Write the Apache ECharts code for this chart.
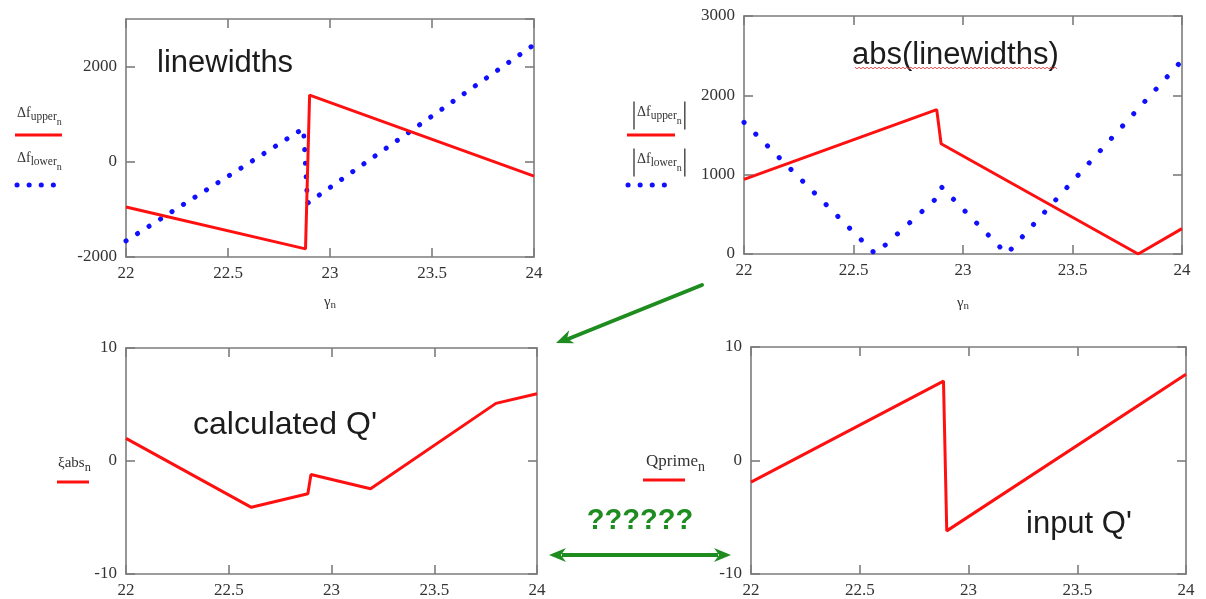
<!DOCTYPE html>
<html>
<head>
<meta charset="utf-8">
<script src="https://cdn.jsdelivr.net/npm/echarts@6/dist/echarts.min.js"></script>
<style>
  html, body { margin: 0; padding: 0; background: #fff; }
  #chart { width: 1206px; height: 599px; }
</style>
</head>
<body>
<div id="chart"></div>
<script>
// Linewidth offsets (upper / lower) against gamma_n
const upperX = [22, 22.88, 22.9, 24];
const upperY = [-950, -1830, 1400, -300];
const lowerX = [22, 22.87, 22.89, 24];
const lowerY = [-1660, 700, -870, 2460];

// Absolute linewidths
const absUpperX = [22, 22.88, 22.9, 23.8, 24];
const absUpperY = [940, 1820, 1390, 0, 320];
const absLowerX = [22, 22.6, 22.87, 22.9, 23.2, 24];
const absLowerY = [1660, 0, 680, 850, 0, 2440];

// Calculated Q' (xi abs)
const xiAbsX = [22, 22.61, 22.885, 22.9, 23.19, 23.8, 24];
const xiAbsY = [2.0, -4.1, -2.9, -1.2, -2.45, 5.1, 5.95];

// Input Q'
const qPrimeX = [22, 22.885, 22.9, 24];
const qPrimeY = [-1.9, 7.0, -6.2, 7.6];

// Axis ranges
const xRange = { min: 22, max: 24, interval: 0.5 };
const yRanges = [
  { min: -2000, max: 3000, interval: 2000 },
  { min: 0, max: 3000, interval: 1000 },
  { min: -10, max: 10, interval: 10 },
  { min: -10, max: 10, interval: 10 }
];

const RED = '#ff1010';
const BLUE = '#1010ff';
const GREEN = '#1f8c1f';
const AXIS = '#7c7c7c';
const LABEL = '#333';
const SERIF = '"Liberation Serif", "DejaVu Serif", serif';
const SANS = '"Liberation Sans", Arial, sans-serif';

const pairs = (xs, ys) => xs.map((x, i) => [x, ys[i]]);

const grids = [
  { left: 126, top: 19, width: 408, height: 238 },
  { left: 744, top: 16, width: 438, height: 238 },
  { left: 126, top: 348, width: 411, height: 228 },
  { left: 751, top: 347, width: 435, height: 228 }
];

const lineAx = { show: true, onZero: false, lineStyle: { color: AXIS, width: 1.6 } };
const tickAx = { show: true, inside: true, length: 9, lineStyle: { color: AXIS, width: 1.6 } };
const plainNumber = v => String(v);

const xAxes = [];
const yAxes = [];
grids.forEach((g, i) => {
  const nameGap = i === 0 ? 37 : 41;
  xAxes.push({
    type: 'value', gridIndex: i, position: 'bottom', ...xRange,
    axisLine: lineAx, axisTick: tickAx, splitLine: { show: false },
    axisLabel: { fontFamily: SERIF, fontSize: 17, color: LABEL, margin: 8, formatter: plainNumber },
    name: i < 2 ? '{g|γ}{s|n}' : '',
    nameLocation: 'middle', nameGap: nameGap,
    nameTextStyle: {
      rich: {
        g: { fontFamily: SERIF, fontSize: 15, color: LABEL },
        s: { fontFamily: SERIF, fontSize: 11, color: LABEL, padding: [6, 0, 0, 0] }
      }
    }
  });
  xAxes.push({
    type: 'value', gridIndex: i, position: 'top', ...xRange,
    axisLine: lineAx, axisTick: tickAx, axisLabel: { show: false }, splitLine: { show: false }
  });
  yAxes.push({
    type: 'value', gridIndex: i, position: 'left', ...yRanges[i],
    axisLine: lineAx, axisTick: tickAx, splitLine: { show: false },
    axisLabel: {
      fontFamily: SERIF, fontSize: 17, color: LABEL, margin: 9,
      showMaxLabel: i !== 0, formatter: plainNumber
    }
  });
  yAxes.push({
    type: 'value', gridIndex: i, position: 'right', ...yRanges[i],
    axisLine: lineAx, axisTick: tickAx, axisLabel: { show: false }, splitLine: { show: false }
  });
});

const solid = (name, xs, ys, g) => ({
  name, type: 'line', xAxisIndex: 2 * g, yAxisIndex: 2 * g,
  data: pairs(xs, ys), showSymbol: false, symbol: 'none',
  lineStyle: { color: RED, width: 3 }, z: 3
});
const dotted = (name, xs, ys, g, gap) => ({
  name, type: 'line', xAxisIndex: 2 * g, yAxisIndex: 2 * g,
  data: pairs(xs, ys), showSymbol: false, symbol: 'none',
  lineStyle: { color: BLUE, width: 5, type: [0.1, gap], cap: 'round' }, z: 2
});

const series = [
  dotted('Δf lower', lowerX, lowerY, 0, 13.5),
  solid('Δf upper', upperX, upperY, 0),
  dotted('|Δf lower|', absLowerX, absLowerY, 1, 16.5),
  solid('|Δf upper|', absUpperX, absUpperY, 1),
  solid('ξabs', xiAbsX, xiAbsY, 2),
  solid('Qprime', qPrimeX, qPrimeY, 3)
];

// --- decorations: legend symbols, titles, arrows ---
const mctx = document.createElement('canvas').getContext('2d');
function textWidth(t, size, family) { mctx.font = size + 'px ' + family; return mctx.measureText(t).width; }

function txt(t, x, y, size, family, fill, extra) {
  return Object.assign({
    type: 'text', x, y, silent: true,
    style: {
      text: t, fontSize: size, fontFamily: family, fill,
      align: 'left', verticalAlign: 'middle',
      textAlign: 'left', textVerticalAlign: 'middle'
    }
  }, extra || {});
}

// Symbol name with a subscript and a second-level subscript, optionally wrapped in |...|
function symbolName(x, y, base, sub, subsub, size, bars) {
  const els = [];
  const s1 = size * 0.82, s2 = size * 0.72;
  let cx = x + (bars ? 4 : 0);
  els.push(txt(base, cx, y, size, SERIF, LABEL));
  cx += textWidth(base, size, SERIF);
  if (sub) {
    els.push(txt(sub, cx, y + size * 0.3, s1, SERIF, LABEL));
    cx += textWidth(sub, s1, SERIF);
  }
  if (subsub) {
    els.push(txt(subsub, cx, y + size * (sub ? 0.65 : 0.32), sub ? s2 : s1, SERIF, LABEL));
    cx += textWidth(subsub, sub ? s2 : s1, SERIF);
  }
  if (bars) {
    const y1 = y - size * 0.75, y2 = y + size * 1.25;
    els.push({ type: 'line', silent: true, shape: { x1: x + 1, y1, x2: x + 1, y2 }, style: { stroke: LABEL, lineWidth: 1.3 } });
    els.push({ type: 'line', silent: true, shape: { x1: cx + 3, y1, x2: cx + 3, y2 }, style: { stroke: LABEL, lineWidth: 1.3 } });
  }
  return els;
}

function redKey(x1, x2, y) {
  return { type: 'line', silent: true, shape: { x1, y1: y, x2, y2: y }, style: { stroke: RED, lineWidth: 3 } };
}
function blueKey(x1, x2, y) {
  return { type: 'line', silent: true, shape: { x1, y1: y, x2, y2: y },
    style: { stroke: BLUE, lineWidth: 5, lineDash: [0.1, 12], lineCap: 'round' } };
}

function arrowHead(tx, ty, fx, fy, len, half) {
  const dx = tx - fx, dy = ty - fy, L = Math.hypot(dx, dy);
  const ux = dx / L, uy = dy / L;
  const bx = tx - ux * len, by = ty - uy * len;
  return { type: 'polygon', silent: true,
    shape: { points: [[tx, ty], [bx - uy * half, by + ux * half], [tx - ux * len * 0.7, ty - uy * len * 0.7], [bx + uy * half, by - ux * half]] },
    style: { fill: GREEN } };
}

function wavy(x1, x2, y, step, amp) {
  const pts = [];
  let k = 0;
  for (let x = x1; x <= x2; x += step, k++) pts.push([x, y + (k % 2 ? amp : -amp)]);
  return { type: 'polyline', silent: true, shape: { points: pts }, style: { stroke: '#e04040', lineWidth: 0.9, fill: null } };
}

const graphics = [].concat(
  // panel titles
  txt('linewidths', 157, 63, 31, SANS, '#1c1c1c'),
  txt('abs(linewidths)', 852, 55, 31, SANS, '#1c1c1c'),
  wavy(855, 1058, 68, 2, 0.8),
  txt('calculated Q\'', 193, 425, 32, SANS, '#1c1c1c'),
  txt('input Q\'', 1026, 524, 31, SANS, '#1c1c1c'),

  // legend keys
  symbolName(17, 113, 'Δf', 'upper', 'n', 14, false),
  redKey(15, 62, 135),
  symbolName(17, 158, 'Δf', 'lower', 'n', 14, false),
  blueKey(17, 54, 185),

  symbolName(633, 112, 'Δf', 'upper', 'n', 14, true),
  redKey(627, 675, 135),
  symbolName(633, 159, 'Δf', 'lower', 'n', 14, true),
  blueKey(628, 666, 185),

  symbolName(58, 463, 'ξabs', null, 'n', 15, false),
  redKey(57, 89, 482),
  symbolName(646, 462, 'Qprime', null, 'n', 17, false),
  redKey(643, 685, 480),

  // arrows and question marks
  { type: 'line', silent: true, shape: { x1: 702, y1: 285, x2: 568, y2: 339 }, style: { stroke: GREEN, lineWidth: 4, lineCap: 'round' } },
  arrowHead(556, 343, 702, 285, 17, 7),
  { type: 'line', silent: true, shape: { x1: 562, y1: 555, x2: 718, y2: 555 }, style: { stroke: GREEN, lineWidth: 4 } },
  arrowHead(549, 555, 730, 555, 17, 7),
  arrowHead(731, 555, 549, 555, 17, 7),
  txt('??????', 640, 521, 29, SANS, GREEN, { style: {
    text: '??????', fontSize: 29, fontFamily: SANS, fontWeight: 'bold', fill: GREEN,
    align: 'center', verticalAlign: 'middle', textAlign: 'center', textVerticalAlign: 'middle' } })
);

const chart = echarts.init(document.getElementById('chart'), null, { renderer: 'canvas' });
chart.setOption({
  animation: false,
  backgroundColor: '#ffffff',
  grid: grids.map(g => Object.assign({ containLabel: false }, g)),
  xAxis: xAxes,
  yAxis: yAxes,
  series,
  graphic: { elements: graphics }
});
</script>
</body>
</html>
